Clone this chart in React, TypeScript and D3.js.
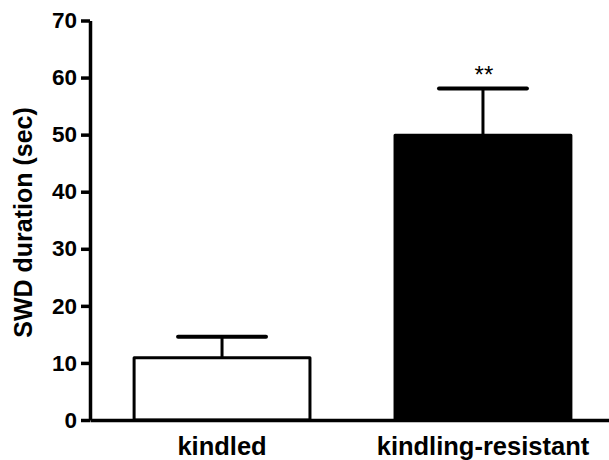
import React, { useEffect, useRef } from 'react';
import * as d3 from 'd3';

const categories = ['kindled', 'kindling-resistant'];
const means = [10.9, 49.9];
const errors = [3.7, 8.2];
const barFills = ['#ffffff', '#000000'];
const yTicks = [0, 10, 20, 30, 40, 50, 60, 70];
const significance = ['', '**'];

const App = () => {
  const svgRef = useRef<SVGSVGElement>(null);

  useEffect(() => {
    const width = 609;
    const height = 460;
    const font = 'Liberation Sans, Arial, Helvetica, sans-serif';

    d3.select(svgRef.current).selectAll('*').remove();

    const svg = d3.select(svgRef.current)
      .attr('width', width)
      .attr('height', height)
      .style('display', 'block');

    const x = d3.scaleBand<string>()
      .domain(categories)
      .range([90, 615])
      .paddingInner(0.326)
      .paddingOuter(0.169);

    const y = d3.scaleLinear().domain([0, 70]).range([420, 20.5]);

    const data = categories.map((c, i) => ({
      cat: c, mean: means[i], err: errors[i], fill: barFills[i], sig: significance[i],
    }));

    // error bars (drawn first so bar top covers the stem)
    const eb = svg.append('g');
    data.forEach(d => {
      const cx = x(d.cat)! + x.bandwidth() / 2;
      const capHalf = x.bandwidth() / 4;
      eb.append('line')
        .attr('x1', cx).attr('x2', cx)
        .attr('y1', y(d.mean)).attr('y2', y(d.mean + d.err))
        .attr('stroke', '#000').attr('stroke-width', 3);
      eb.append('line')
        .attr('x1', cx - capHalf).attr('x2', cx + capHalf)
        .attr('y1', y(d.mean + d.err)).attr('y2', y(d.mean + d.err))
        .attr('stroke', '#000').attr('stroke-width', 4)
        .attr('stroke-linecap', 'round');
      if (d.sig) {
        eb.append('text')
          .attr('x', cx + 1)
          .attr('y', y(d.mean + d.err) - 5)
          .attr('text-anchor', 'middle')
          .attr('font-family', font)
          .attr('font-size', 24)
          .text(d.sig);
      }
    });

    // bars
    svg.append('g')
      .selectAll('rect')
      .data(data)
      .enter()
      .append('rect')
      .attr('x', d => x(d.cat)!)
      .attr('y', d => y(d.mean))
      .attr('width', x.bandwidth())
      .attr('height', d => y(0) - y(d.mean))
      .attr('fill', d => d.fill)
      .attr('stroke', '#000')
      .attr('stroke-width', 3)
      .attr('stroke-linejoin', 'round');

    // y axis
    const yAxis = svg.append('g')
      .attr('transform', 'translate(90,0)')
      .call(d3.axisLeft(y).tickValues(yTicks).tickSize(9).tickPadding(4).tickSizeOuter(0));
    yAxis.select('.domain').attr('stroke-width', 3.5);
    yAxis.selectAll('.tick line').attr('stroke-width', 3.5);
    yAxis.selectAll('.tick text')
      .attr('font-family', font)
      .attr('font-size', 22.5)
      .attr('font-weight', 'bold')
      .attr('fill', '#000');

    // x axis
    const xAxis = svg.append('g')
      .attr('transform', `translate(0,${y(0)})`)
      .call(d3.axisBottom(x).tickSize(0).tickPadding(17).tickSizeOuter(0));
    xAxis.select('.domain').attr('stroke-width', 3.5);
    xAxis.selectAll('.tick text')
      .attr('font-family', font)
      .attr('font-size', 25.5)
      .attr('font-weight', 'bold')
      .attr('fill', '#000');

    // y axis title
    svg.append('text')
      .attr('transform', 'translate(32,222.5) rotate(-90)')
      .attr('text-anchor', 'middle')
      .attr('font-family', font)
      .attr('font-size', 25)
      .attr('font-weight', 'bold')
      .text('SWD duration (sec)');
  }, []);

  return (
    <div style={{ position: 'absolute', left: 0, top: 0 }}>
      <svg ref={svgRef} />
    </div>
  );
};

export default App;
